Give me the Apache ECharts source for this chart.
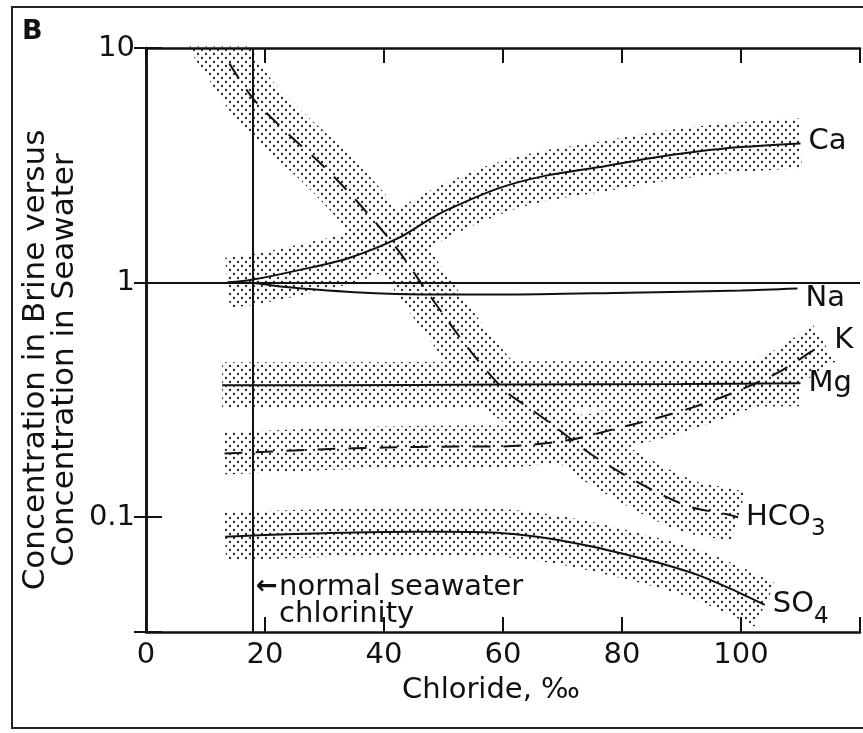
<!DOCTYPE html>
<html>
<head>
<meta charset="utf-8">
<title>Brine versus seawater</title>
<script src="https://cdn.jsdelivr.net/npm/echarts@6/dist/echarts.min.js"></script>
<style>
  html, body { margin: 0; padding: 0; background: #fff; }
  #main { width: 863px; height: 733px; }
</style>
</head>
<body>
<div id="main"></div>
<script>
// values: chloride (‰) against concentration ratio brine / seawater
const caCl = [13.7, 18, 25.7, 34, 42.5, 47.5, 50.8, 59.2, 67, 76, 85, 92.7, 100, 110]
const caVal = [1.0, 1.03, 1.13, 1.27, 1.55, 1.85, 2.05, 2.52, 2.85, 3.1, 3.4, 3.62, 3.78, 3.92]

const naCl = [13.7, 18, 23, 28.5, 35, 42, 50.8, 60, 81, 100, 109.5]
const naVal = [1.0, 0.995, 0.96, 0.934, 0.91, 0.895, 0.889, 0.889, 0.906, 0.925, 0.943]

const kCl = [13.2, 20, 30, 40, 52, 58.5, 65, 72.3, 78.8, 84.8, 91.8, 99.2, 106.2, 112.6, 114]
const kVal = [0.187, 0.19, 0.195, 0.198, 0.2, 0.2, 0.204, 0.216, 0.238, 0.26, 0.293, 0.343, 0.413, 0.523, 0.55]

const mgCl = [12.8, 30, 60, 90, 110]
const mgVal = [0.365, 0.365, 0.368, 0.37, 0.372]

const hco3Cl = [14, 18, 24, 29, 33.8, 38.6, 42.8, 46.3, 50.2, 54.2, 58, 61, 64.5, 68.3, 74.2, 79, 85, 91.3, 97.6, 99.5]
const hco3Val = [8.6, 6.09, 4.28, 3.28, 2.47, 1.8, 1.33, 0.99, 0.717, 0.523, 0.4, 0.335, 0.291, 0.248, 0.19, 0.159, 0.131, 0.111, 0.103, 0.1]
// the HCO3 envelope runs on past the top of the plot
const hco3BandStart = [10.5, 11.7]

const so4Cl = [13.3, 20, 30, 40, 50, 60, 68, 75.5, 82, 87, 92.6, 98.2, 104]
const so4Val = [0.0826, 0.084, 0.0855, 0.0865, 0.0866, 0.0855, 0.081, 0.0745, 0.068, 0.063, 0.0569, 0.0496, 0.0423]

const seawaterCl = 18
const unity = 1
const noteAt = [18, 0.044]

const xTicks = [0, 20, 40, 60, 80, 100]
const yTicks = [0.1, 1, 10]

const FONT = 'DejaVu Sans'
const INK = '#111'

const pairs = (xs, ys) => xs.map((x, i) => [x, ys[i]])

// stippled fill used for the envelopes (staggered halftone dots)
function stipple () {
  const c = document.createElement('canvas')
  c.width = 8
  c.height = 8
  const ctx = c.getContext('2d')
  ctx.fillStyle = '#222'
  ;[[2, 2], [6, 6]].forEach(p => {
    ctx.beginPath()
    ctx.arc(p[0], p[1], 1.15, 0, Math.PI * 2)
    ctx.fill()
  })
  return c
}
const dots = { image: stipple(), repeat: 'repeat' }

function band (data, width) {
  return {
    type: 'line',
    data: data,
    smooth: 0.3,
    showSymbol: false,
    silent: true,
    z: 1,
    lineStyle: { color: dots, width: width, cap: 'butt', join: 'round' }
  }
}

function curve (data, dashed, label, offset) {
  return {
    type: 'line',
    data: data,
    smooth: 0.3,
    showSymbol: false,
    z: 3,
    itemStyle: { color: INK },
    lineStyle: { color: INK, width: 2, type: dashed ? [18, 13] : 'solid' },
    endLabel: {
      show: true,
      formatter: label,
      distance: 8,
      offset: offset || [0, 0],
      color: INK,
      fontFamily: FONT,
      fontSize: 29,
      rich: {
        sub: { fontFamily: FONT, fontSize: 23, color: INK, padding: [24, 0, 0, 0] }
      }
    }
  }
}

const yFmt = v => {
  const hit = yTicks.find(t => Math.abs(Math.log10(v) - Math.log10(t)) < 1e-6)
  return hit === undefined ? '' : String(hit)
}
const xFmt = v => (xTicks.includes(v) ? String(v) : '')

const axisLine = { lineStyle: { color: INK, width: 2.5 } }

const chart = echarts.init(document.getElementById('main'))
chart.setOption({
  animation: false,
  backgroundColor: '#fff',
  grid: { left: 146, top: 48, right: -1, bottom: 101 },
  xAxis: [
    {
      type: 'value', min: 0, max: 120, interval: 20,
      axisLine: axisLine,
      axisTick: { inside: true, length: 15, lineStyle: { color: INK, width: 2 } },
      splitLine: { show: false },
      axisLabel: { formatter: xFmt, color: INK, fontFamily: FONT, fontSize: 29, margin: 9 },
      name: 'Chloride, ‰',
      nameLocation: 'middle',
      nameGap: 44,
      nameTextStyle: { color: INK, fontFamily: FONT, fontSize: 29, padding: [0, 24, 0, 0] }
    },
    {
      type: 'value', min: 0, max: 120, interval: 20, position: 'top',
      axisLine: axisLine,
      axisTick: { inside: true, length: 15, lineStyle: { color: INK, width: 2 } },
      splitLine: { show: false },
      axisLabel: { show: false }
    }
  ],
  yAxis: [
    {
      type: 'log', logBase: 10, min: 0.0324, max: 10,
      axisLine: axisLine,
      axisTick: { inside: true, length: 16, lineStyle: { color: INK, width: 2 } },
      splitLine: { show: false },
      minorTick: { show: false },
      axisLabel: { formatter: yFmt, color: INK, fontFamily: FONT, fontSize: 29, margin: 11 }
    },
    {
      type: 'log', logBase: 10, min: 0.0324, max: 10, position: 'right',
      axisLine: axisLine,
      axisTick: { inside: true, length: 12, lineStyle: { color: INK, width: 2 } },
      splitLine: { show: false },
      axisLabel: { show: false }
    }
  ],
  graphic: [
    {
      type: 'rect', z: 100, silent: true,
      shape: { x: 147, y: 9, width: 716, height: 37.5 },
      style: { fill: '#fff' }
    },
    {
      type: 'rect', z: 100, silent: true,
      shape: { x: 12, y: 7, width: 900, height: 721 },
      style: { fill: 'none', stroke: '#222', lineWidth: 2 }
    },
    {
      type: 'text', z: 100, left: 22, top: 18,
      style: { text: 'B', fill: INK, font: 'bold 27px "DejaVu Sans"' }
    },
    {
      type: 'text', z: 100, x: 50, y: 360, rotation: Math.PI / 2,
      style: {
        text: 'Concentration in Brine versus\nConcentration in Seawater',
        fill: INK,
        font: '31px "DejaVu Sans"',
        lineHeight: 29,
        align: 'center',
        verticalAlign: 'middle'
      }
    }
  ],
  series: [
    band(pairs(caCl, caVal), 50),
    band(pairs(mgCl, mgVal), 46),
    band(pairs(kCl, kVal), 42),
    band([hco3BandStart].concat(pairs(hco3Cl, hco3Val)), 52),
    band(pairs(so4Cl, so4Val), 48),
    curve(pairs(caCl, caVal), false, 'Ca', [0, -2]),
    Object.assign(curve(pairs(naCl, naVal), false, 'Na', [0, 10]), {
      markLine: {
        silent: true,
        symbol: ['none', 'none'],
        label: { show: false },
        lineStyle: { color: INK, width: 2, type: 'solid' },
        data: [{ xAxis: seawaterCl }, { yAxis: unity }]
      },
      markPoint: {
        silent: true,
        symbol: 'circle',
        symbolSize: 0,
        data: [{ coord: noteAt }],
        label: {
          show: true,
          position: 'right',
          distance: 3,
          color: INK,
          fontFamily: FONT,
          fontSize: 29,
          lineHeight: 27,
          formatter: '{arr|←}normal seawater\n{pad|}chlorinity',
          rich: {
            arr: { fontFamily: FONT, fontSize: 26, fontWeight: 'bold', width: 23, color: INK },
            pad: { width: 23 }
          }
        }
      }
    }),
    curve(pairs(kCl, kVal), true, 'K', [2, -3]),
    curve(pairs(mgCl, mgVal), false, 'Mg', [0, 0]),
    curve(pairs(hco3Cl, hco3Val), true, 'HCO{sub|3}', [0, 0]),
    curve(pairs(so4Cl, so4Val), false, 'SO{sub|4}', [0, 0])
  ]
})
</script>
</body>
</html>
